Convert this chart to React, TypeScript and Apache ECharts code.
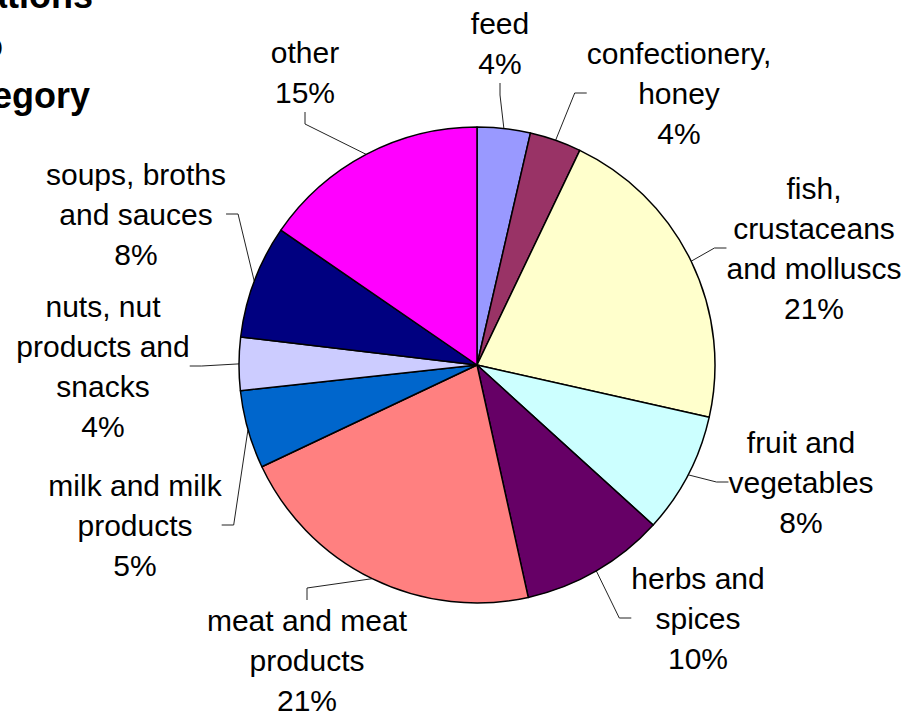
import React, { useEffect, useRef } from "react";
import * as echarts from "echarts";

// Data
const categories: string[] = [
  "feed",
  "confectionery,\nhoney",
  "fish,\ncrustaceans\nand molluscs",
  "fruit and\nvegetables",
  "herbs and\nspices",
  "meat and meat\nproducts",
  "milk and milk\nproducts",
  "nuts, nut\nproducts and\nsnacks",
  "soups, broths\nand sauces",
  "other",
];
const shares: number[] = [3.6, 3.5, 21.4, 8.2, 9.8, 21.4, 5.3, 3.6, 7.7, 15.4];
const titleLines: string[] = [
  "Border rejection notifications",
  "according to",
  "product category",
];

// Styling / layout (not data)
const colors = [
  "#9999FF",
  "#993366",
  "#FFFFCC",
  "#CCFFFF",
  "#660066",
  "#FF8080",
  "#0066CC",
  "#CCCCFF",
  "#000080",
  "#FF00FF",
];
const labelCenters: [number, number][] = [
  [500, 43],
  [679, 93],
  [814, 248],
  [801, 482],
  [698, 618],
  [307, 660],
  [135, 525],
  [103, 366],
  [136, 214],
  [305, 72],
];
const FONT = "'Liberation Sans', Arial, Helvetica, sans-serif";

export default function App() {
  const ref = useRef<HTMLDivElement>(null);
  useEffect(() => {
    if (!ref.current) return;
    const chart = echarts.init(ref.current, undefined, { renderer: "svg" });
    const titleXs = [93, 3, 90];
    const titleYs = [-5, 45, 95];
    chart.setOption({
      animation: false,
      backgroundColor: "#ffffff",
      textStyle: { fontFamily: FONT },
      graphic: titleLines.map((t, i) => ({
        type: "text",
        x: titleXs[i],
        y: titleYs[i],
        style: {
          text: t,
          font: `bold 36px ${FONT}`,
          fill: "#000",
          align: "right",
          verticalAlign: "middle",
        },
      })),
      series: [
        {
          type: "pie",
          center: [477, 365],
          radius: [0, 238],
          startAngle: 90,
          clockwise: true,
          avoidLabelOverlap: false,
          data: categories.map((name, i) => ({
            name,
            value: shares[i],
            itemStyle: { color: colors[i] },
          })),
          itemStyle: { borderColor: "#000", borderWidth: 1.5 },
          label: {
            show: true,
            position: "outside",
            formatter: (p: any) => `${p.name}\n${Math.round(p.value)}%`,
            fontSize: 30,
            lineHeight: 40,
            color: "#000",
            fontFamily: FONT,
            align: "center",
          },
          labelLine: {
            show: true,
            length: 15,
            length2: 12,
            lineStyle: { color: "#222", width: 1 },
          },
          labelLayout: (params: any) => {
            const c = labelCenters[params.dataIndex];
            return {
              x: c[0],
              y: c[1],
              align: "center",
              verticalAlign: "middle",
            };
          },
          emphasis: { disabled: true },
        },
      ],
    });
    return () => chart.dispose();
  }, []);
  return (
    <div
      ref={ref}
      style={{ position: "absolute", left: 0, top: 0, width: 911, height: 715 }}
    />
  );
}
